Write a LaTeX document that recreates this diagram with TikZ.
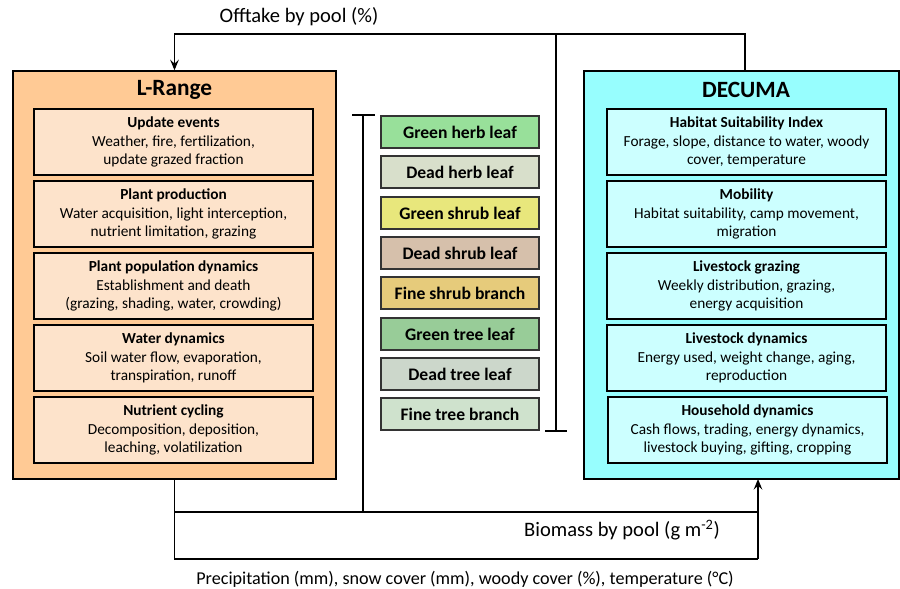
\documentclass[tikz,border=0pt]{standalone}
\usepackage{fontspec}
\setmainfont{Carlito}
\usetikzlibrary{arrows.meta,calc}
\definecolor{lrorange}{HTML}{FFCA95}
\definecolor{lrpeach}{HTML}{FDE3CB}
\definecolor{dccyan}{HTML}{97FEFE}
\definecolor{dclcyan}{HTML}{CCFFFF}
\definecolor{pA}{HTML}{98E09A}
\definecolor{pB}{HTML}{D8DFCB}
\definecolor{pC}{HTML}{E8E77C}
\definecolor{pD}{HTML}{D6C0AB}
\definecolor{pE}{HTML}{E6CB7B}
\definecolor{pF}{HTML}{98CC98}
\definecolor{pG}{HTML}{CCD7CB}
\definecolor{pH}{HTML}{CFE2CD}
\begin{document}
\begin{tikzpicture}[x=0.75pt,y=-0.75pt,
  ln/.style={line width=1pt,draw=black},
  arr/.style={ln,-{Stealth[length=8pt,width=6.5pt,inset=3pt]}},
  outerbox/.style={draw=black,line width=1pt,minimum width=#1,minimum height=306pt,inner sep=0pt},
  innerbox/.style={draw=black,line width=1pt,minimum width=209.25pt,minimum height=49.5pt,inner sep=0pt,align=center,font=\fontsize{11.5}{13.7}\selectfont},
  poolbox/.style={draw=black!80,line width=1pt,minimum width=118.5pt,minimum height=24pt,inner sep=0pt,font=\fontsize{13.2}{15}\selectfont\bfseries},
  titletext/.style={font=\fontsize{17.5}{19}\selectfont\bfseries},
  labeltext/.style={font=\fontsize{15.4}{17}\selectfont}
]
\useasboundingbox (0,0) rectangle (900,589);

% outer boxes
\node[outerbox=242.25pt,fill=lrorange] (lrange) at (174.5,275) {};
\node[outerbox=236.25pt,fill=dccyan] (decuma) at (741.5,275) {};
\node[titletext] (lrtitle) at (174.5,90) {L-Range};
\node[titletext] (dctitle) at (746,90) {DECUMA};

% L-Range inner boxes
\node[innerbox,fill=lrpeach] (l1) at (173.5,142) {\textbf{Update events}\\Weather, fire, fertilization,\\update grazed fraction};
\node[innerbox,fill=lrpeach] (l2) at (173.5,214) {\textbf{Plant production}\\Water acquisition, light interception,\\nutrient limitation, grazing};
\node[innerbox,fill=lrpeach] (l3) at (173.5,286) {\textbf{Plant population dynamics}\\Establishment and death\\(grazing, shading, water, crowding)};
\node[innerbox,fill=lrpeach] (l4) at (173.5,358) {\textbf{Water dynamics}\\Soil water flow, evaporation,\\transpiration, runoff};
\node[innerbox,fill=lrpeach] (l5) at (173.5,430) {\textbf{Nutrient cycling}\\Decomposition, deposition,\\leaching, volatilization};

% DECUMA inner boxes
\node[innerbox,fill=dclcyan] (d1) at (746.5,142) {\textbf{Habitat Suitability Index}\\Forage, slope, distance to water, woody\\cover, temperature};
\node[innerbox,fill=dclcyan] (d2) at (746.5,214) {\textbf{Mobility}\\Habitat suitability, camp movement,\\migration};
\node[innerbox,fill=dclcyan] (d3) at (746.5,286) {\textbf{Livestock grazing}\\Weekly distribution, grazing,\\energy acquisition};
\node[innerbox,fill=dclcyan] (d4) at (746.5,358) {\textbf{Livestock dynamics}\\Energy used, weight change, aging,\\reproduction};
\node[innerbox,fill=dclcyan] (d5) at (747.5,430) {\textbf{Household dynamics}\\Cash flows, trading, energy dynamics,\\livestock buying, gifting, cropping};

% pools
\node[poolbox,fill=pA] (p1) at (460,132) {Green herb leaf};
\node[poolbox,fill=pB] (p2) at (460,172) {Dead herb leaf};
\node[poolbox,fill=pC] (p3) at (460,213) {Green shrub leaf};
\node[poolbox,fill=pD] (p4) at (460,253) {Dead shrub leaf};
\node[poolbox,fill=pE] (p5) at (460,293) {Fine shrub branch};
\node[poolbox,fill=pF] (p6) at (460,334) {Green tree leaf};
\node[poolbox,fill=pG] (p7) at (460,374) {Dead tree leaf};
\node[poolbox,fill=pH] (p8) at (460,414) {Fine tree branch};

% coordinates
\coordinate (topline) at (0,34);
\coordinate (rbtop) at (556,34);
\coordinate (rbbot) at (556,431);
\coordinate (rbtl) at (545,431);
\coordinate (rbtr) at (567,431);
\coordinate (lbtop) at (363,115);
\coordinate (lbtl) at (352,115);
\coordinate (lbtr) at (375,115);
\coordinate (b1) at (758,512);
\coordinate (b2) at (758,559);
\coordinate (barr) at (758,479);

% top connector
\draw[arr] ([xshift=2.6pt]decuma.north) |- (topline -| lrange.north) -- (lrange.north);
\draw[ln] (rbtop) -- (rbbot);
\draw[ln] (rbtl) -- (rbtr);

% left bracket
\draw[ln] (lbtl) -- (lbtr);
\draw[ln] (lbtop) -- (lbtop |- b1);

% bottom connectors
\draw[ln] (lrange.south) |- (b2);
\draw[ln] (lrange.south |- b1) -- (b1);
\draw[arr] (b2) -- (barr);

% labels
\node[labeltext] (offtake) at (299,17) {Offtake by pool (\%)};
\node[labeltext] (biomass) at (622,530) {Biomass by pool (g m\textsuperscript{-2})};
\node[labeltext,font=\fontsize{13.6}{16}\selectfont] (precip) at (465,579) {Precipitation (mm), snow cover (mm), woody cover (\%), temperature (°C)};
\end{tikzpicture}
\end{document}
